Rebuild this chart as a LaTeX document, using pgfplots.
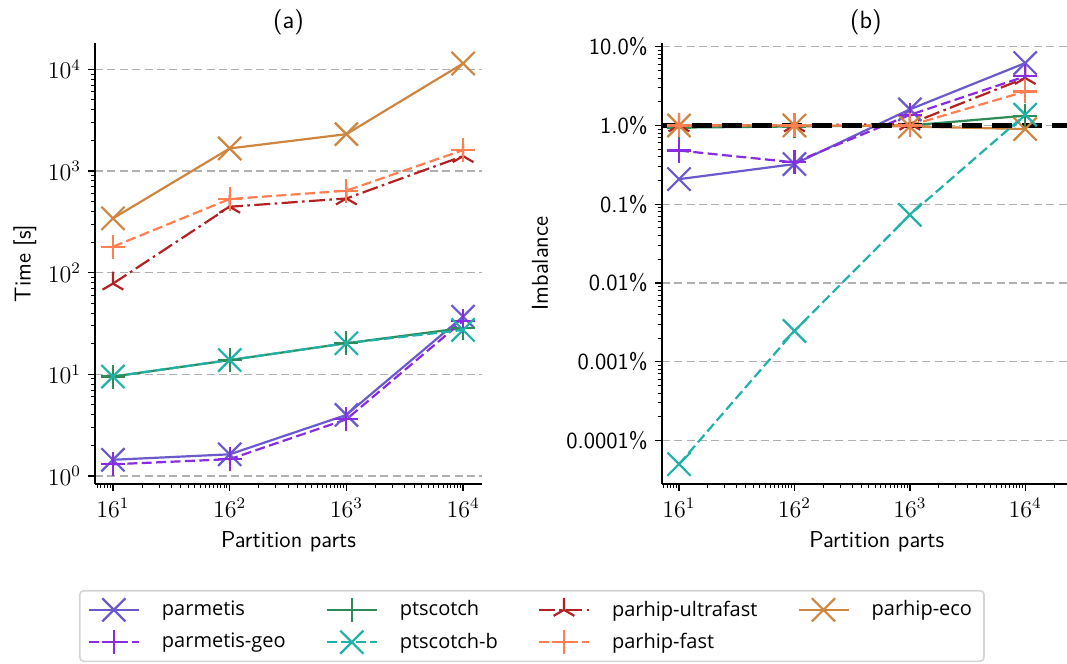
\documentclass[border=0pt]{standalone}
\usepackage{fontspec}
\usepackage{pgfplots}
\pgfplotsset{compat=1.18}
\newfontfamily\legfont{Open Sans}
\definecolor{cpm}{RGB}{106,90,205}
\definecolor{cpmg}{RGB}{138,43,226}
\definecolor{cpt}{RGB}{46,139,87}
\definecolor{cptb}{RGB}{32,178,170}
\definecolor{cuf}{RGB}{178,34,34}
\definecolor{cfa}{RGB}{255,127,80}
\definecolor{ceco}{RGB}{205,133,63}
\pgfdeclareplotmark{tri}{%
  \pgfpathmoveto{\pgfpointorigin}\pgfpathlineto{\pgfpoint{0pt}{\pgfplotmarksize}}%
  \pgfpathmoveto{\pgfpointorigin}\pgfpathlineto{\pgfpoint{-0.866\pgfplotmarksize}{-0.5\pgfplotmarksize}}%
  \pgfpathmoveto{\pgfpointorigin}\pgfpathlineto{\pgfpoint{0.866\pgfplotmarksize}{-0.5\pgfplotmarksize}}%
  \pgfusepathqstroke}
\tikzset{
  spm/.style={color=cpm, mark=x, mark size=8.2pt},
  spmg/.style={color=cpmg, mark=+, mark size=6pt, dash pattern=on 5pt off 2.2pt},
  spt/.style={color=cpt, mark=+, mark size=6pt},
  sptb/.style={color=cptb, mark=x, mark size=8.2pt, dash pattern=on 5pt off 2.2pt},
  suf/.style={color=cuf, mark=tri, mark size=6pt, dash pattern=on 8pt off 2.2pt on 1.3pt off 2.2pt},
  sfa/.style={color=cfa, mark=+, mark size=6pt, dash pattern=on 5pt off 2.2pt},
  seco/.style={color=ceco, mark=x, mark size=8.2pt},
}
\pgfplotsset{
  every axis title shift=0pt,
  every axis title/.style={at={(axis description cs:0.5,1.048)}, anchor=center, font=\sffamily\fontsize{12.5}{15}\selectfont},
  every axis/.append style={
    scale only axis, height=220.5pt,
    font=\sffamily\fontsize{11.5}{13.8}\selectfont,
    axis x line*=bottom, axis y line*=left,
    axis line style={line width=0.8pt,-},
    tick align=outside, major tick length=3.5pt, minor tick length=2pt,
    every tick/.style={black, line width=0.7pt},
    minor tick style={line width=0.5pt},
    ymajorgrids, major grid style={color=black!31, dash pattern=on 4pt off 2.2pt, line width=0.7pt},
    xtick={16,256,4096,65536},
    xticklabels={$16^1$,$16^2$,$16^3$,$16^4$},
    minor xtick={11,12,13,14,15,32,48,64,80,96,112,128,144,160,176,192,208,224,240,512,768,1024,1280,1536,1792,2048,2304,2560,2816,3072,3328,3584,3840,8192,12288,16384,20480,24576,28672,32768,36864,40960,45056,49152,53248,57344,61440,131072,196608,262144},
    xlabel={Partition parts},
    xlabel style={at={(axis description cs:0.5,-0.131)}, anchor=center},
  },
  every axis plot/.append style={line width=1.1pt, mark options={solid, line width=1.1pt}},
  legend image code/.code={\draw[mark repeat=2,mark phase=2,#1] plot coordinates {(0pt,0pt) (12.5pt,0pt) (25pt,0pt)};},
}
\begin{document}
\begin{tikzpicture}
\path[use as bounding box] (-47.5pt,-90pt) rectangle (486pt,242pt);
\begin{axis}[xmode=log, ymode=log, width=193.5pt,
  xmin=10.44, xmax=102690, ymin=0.832, ymax=18197,
  ytick={1,10,100,1000,10000},
  ylabel={Time [s]},
  ylabel style={at={(axis description cs:-0.181,0.5)}, anchor=center},
  title={(a)},
  legend columns=4,
  legend cell align=left,
  legend style={at={(rel axis cs:1.129,-0.322)}, anchor=center,
    font=\legfont\fontsize{10}{12}\selectfont,
    draw=black!17, line width=0.8pt, rounded corners=2pt,
    inner xsep=4pt, inner ysep=3pt, row sep=3pt,
    /tikz/every odd column/.append style={column sep=9pt},
    /tikz/every even column/.append style={column sep=18pt}},
]
\addplot[spm] coordinates {(16,1.44) (256,1.63) (4096,3.98) (65536,36.9)};
\addlegendentry{parmetis}
\addplot[spt] coordinates {(16,9.5) (256,13.8) (4096,20.2) (65536,28.5)};
\addlegendentry{ptscotch}
\addplot[suf] coordinates {(16,78) (256,445) (4096,537) (65536,1402)};
\addlegendentry{parhip-ultrafast}
\addplot[seco] coordinates {(16,342) (256,1668) (4096,2306) (65536,11430)};
\addlegendentry{parhip-eco}
\addplot[spmg] coordinates {(16,1.30) (256,1.46) (4096,3.6) (65536,33.6)};
\addlegendentry{parmetis-geo}
\addplot[sptb] coordinates {(16,9.5) (256,13.8) (4096,20.2) (65536,27.3)};
\addlegendentry{ptscotch-b}
\addplot[sfa] coordinates {(16,180) (256,530) (4096,640) (65536,1606)};
\addlegendentry{parhip-fast}
\end{axis}
\begin{axis}[xmode=log, ymode=log, at={(283.35pt,0pt)}, width=215pt,
  xmin=10.56, xmax=323600, ymin=2.8e-5, ymax=11.14,
  ytick={0.0001,0.001,0.01,0.1,1,10},
  yticklabels={0.0001\%,0.001\%,0.01\%,0.1\%,1.0\%,10.0\%},
  ylabel={Imbalance},
  ylabel style={at={(axis description cs:-0.283,0.5)}, anchor=center},
  title={(b)},
  title style={at={(axis description cs:0.475,1.048)}},
]
\addplot[spm] coordinates {(16,0.208) (256,0.323) (4096,1.6) (65536,6.2)};
\addplot[spt] coordinates {(16,0.94) (256,0.97) (4096,1.0) (65536,1.33)};
\addplot[suf] coordinates {(16,1.0) (256,1.0) (4096,1.05) (65536,4.0)};
\addplot[seco] coordinates {(16,1.0) (256,1.0) (4096,0.97) (65536,0.9)};
\addplot[spmg] coordinates {(16,0.48) (256,0.34) (4096,1.36) (65536,4.2)};
\addplot[sptb] coordinates {(16,5.0e-5) (256,0.00246) (4096,0.0733) (65536,1.37)};
\addplot[sfa] coordinates {(16,1.0) (256,1.0) (4096,1.0) (65536,2.7)};
\addplot[black, no marks, line width=2.6pt, dash pattern=on 10pt off 5pt] coordinates {(10.56,1) (323600,1)};
\end{axis}
\end{tikzpicture}
\end{document}
